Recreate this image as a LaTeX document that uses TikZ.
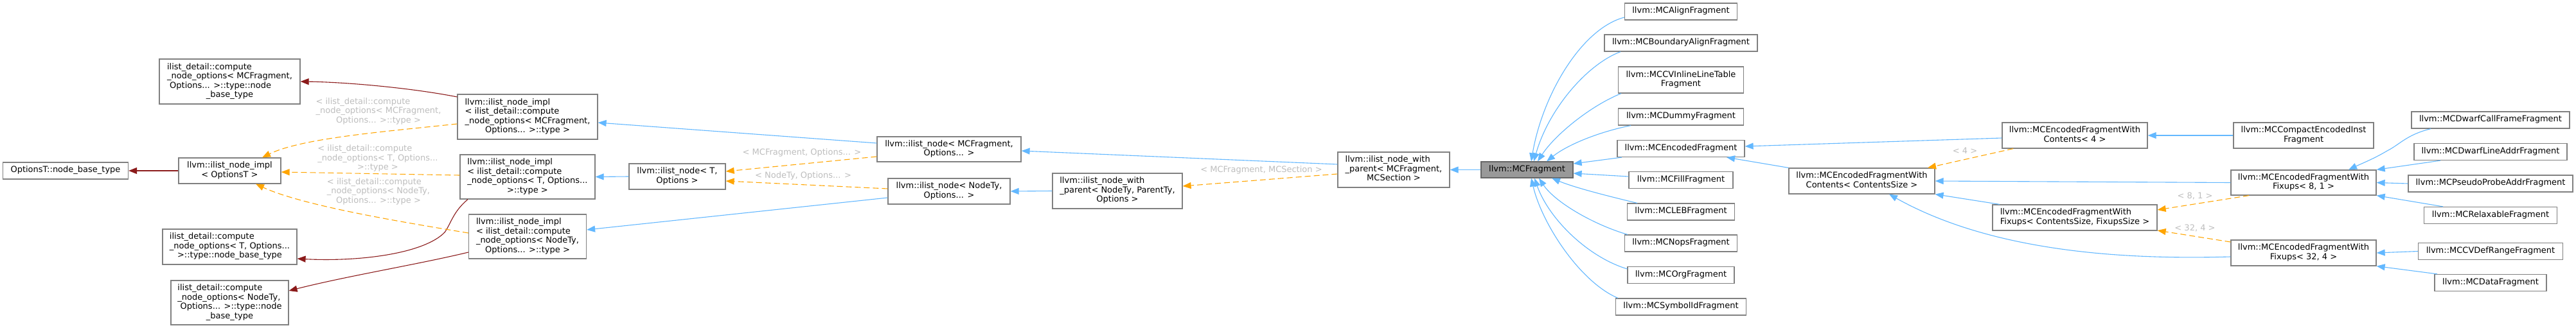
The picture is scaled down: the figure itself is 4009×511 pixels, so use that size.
\documentclass[tikz,border=0pt]{standalone}
\usepackage{fontspec}
\setmainfont{DejaVu Sans}
\usetikzlibrary{arrows.meta}
\definecolor{edgeblue}{HTML}{63B8FF}
\definecolor{edgeorange}{HTML}{FFA500}
\definecolor{edgered}{HTML}{8B1A1A}
\definecolor{nodeborder}{HTML}{808080}
\definecolor{labelgrey}{HTML}{BEBEBE}
\definecolor{focusfill}{HTML}{999999}
\definecolor{focusborder}{HTML}{666666}
\newcommand{\ml}[2]{\begin{tabular}{@{}l@{}}#1\\\multicolumn{1}{@{}c@{}}{#2}\end{tabular}}
\newcommand{\oneline}[1]{\begin{tabular}{@{}c@{}}#1\end{tabular}}
\tikzset{
  cls/.style={draw=nodeborder, line width=1.2pt, fill=white, inner sep=0pt,
    font=\fontsize{13}{14.5}\selectfont, text=black},
  focus/.style={cls, fill=focusfill, draw=focusborder},
  tipstyle/.style={-{Triangle[length=13pt,width=10pt]}},
  pub/.style={draw=edgeblue, line width=1.1pt, tipstyle},
  tmpl/.style={draw=edgeorange, line width=1.1pt, dash pattern=on 9pt off 5pt, tipstyle},
  priv/.style={draw=edgered, line width=1.1pt, tipstyle},
  lbl/.style={text=labelgrey, inner sep=0pt, font=\fontsize{13}{14.5}\selectfont},
}
\begin{document}
\begin{tikzpicture}[x=1pt,y=-1pt]
\useasboundingbox (0,0) rectangle (4009,511);
\fill[white] (0,0) rectangle (4009,511);

% left column
\node[cls, minimum width=195pt, minimum height=26pt] (optT) at (102,266) {\oneline{OptionsT::node\_base\_type}};
\node[cls, minimum width=159pt, minimum height=40pt] (implOptT) at (357.5,266) {\ml{llvm::ilist\_node\_impl}{< OptionsT >}};
\node[cls, minimum width=219pt, minimum height=70pt] (nbtMCF) at (357.5,127) {\ml{ilist\_detail::compute\\\_node\_options< MCFragment,\\\ Options... >::type::node}{\_base\_type}};
\node[cls, minimum width=209pt, minimum height=55pt] (nbtT) at (357.5,384.5) {\ml{ilist\_detail::compute\\\_node\_options< T, Options...}{>::type::node\_base\_type}};
\node[cls, minimum width=183pt, minimum height=69pt] (nbtNT) at (357.5,471.5) {\ml{ilist\_detail::compute\\\_node\_options< NodeTy,\\\ Options... >::type::node}{\_base\_type}};

% impl column
\node[cls, minimum width=218pt, minimum height=70pt] (implMCF) at (821,182) {\ml{llvm::ilist\_node\_impl\\< ilist\_detail::compute\\\_node\_options< MCFragment,}{Options... >::type >}};
\node[cls, minimum width=210pt, minimum height=69pt] (implT) at (821,275.5) {\ml{llvm::ilist\_node\_impl\\< ilist\_detail::compute\\\_node\_options< T, Options...}{>::type >}};
\node[cls, minimum width=183pt, minimum height=69pt] (implNT) at (821,368.5) {\ml{llvm::ilist\_node\_impl\\< ilist\_detail::compute\\\_node\_options< NodeTy,}{Options... >::type >}};

\node[cls, minimum width=150pt, minimum height=40pt] (nodeT) at (1054,275) {\ml{llvm::ilist\_node< T,}{Options >}};
\node[cls, minimum width=224pt, minimum height=39pt] (nodeMCF) at (1477,232.5) {\ml{llvm::ilist\_node< MCFragment,}{Options... >}};
\node[cls, minimum width=190pt, minimum height=40pt] (nodeNT) at (1477,298) {\ml{llvm::ilist\_node< NodeTy,}{Options... >}};
\node[cls, minimum width=202pt, minimum height=55pt] (wpNT) at (1739,297.5) {\ml{llvm::ilist\_node\_with\\\_parent< NodeTy, ParentTy,}{Options >}};
\node[cls, minimum width=174pt, minimum height=55pt] (wpMCF) at (2169,264.5) {\ml{llvm::ilist\_node\_with\\\_parent< MCFragment,}{MCSection >}};
\node[focus, minimum width=143pt, minimum height=25pt] (MCF) at (2376.5,264.5) {\oneline{llvm::MCFragment}};

% fragment column
\node[cls, minimum width=175pt, minimum height=26pt] (fAlign) at (2616,18) {\oneline{llvm::MCAlignFragment}};
\node[cls, minimum width=238pt, minimum height=26pt] (fBound) at (2616,67) {\oneline{llvm::MCBoundaryAlignFragment}};
\node[cls, minimum width=195pt, minimum height=41pt] (fCV) at (2616,124.5) {\ml{llvm::MCCVInlineLineTable}{Fragment}};
\node[cls, minimum width=195pt, minimum height=26pt] (fDummy) at (2616,182) {\oneline{llvm::MCDummyFragment}};
\node[cls, minimum width=198pt, minimum height=26pt] (fEnc) at (2616,231.5) {\oneline{llvm::MCEncodedFragment}};
\node[cls, minimum width=162pt, minimum height=26pt] (fFill) at (2616,280.5) {\oneline{llvm::MCFillFragment}};
\node[cls, minimum width=167pt, minimum height=26pt] (fLEB) at (2616,330) {\oneline{llvm::MCLEBFragment}};
\node[cls, minimum width=175pt, minimum height=26pt] (fNops) at (2616,379) {\oneline{llvm::MCNopsFragment}};
\node[cls, minimum width=166pt, minimum height=26pt] (fOrg) at (2616,428.5) {\oneline{llvm::MCOrgFragment}};
\node[cls, minimum width=203pt, minimum height=26pt] (fSym) at (2616,478) {\oneline{llvm::MCSymbolIdFragment}};

% encoded fragments
\node[cls, minimum width=227pt, minimum height=40pt] (ewcCS) at (2897.5,282) {\ml{llvm::MCEncodedFragmentWith}{Contents< ContentsSize >}};
\node[cls, minimum width=226pt, minimum height=40pt] (ewc4) at (3229,211) {\ml{llvm::MCEncodedFragmentWith}{Contents< 4 >}};
\node[cls, minimum width=256pt, minimum height=40pt] (ewfCS) at (3229,339) {\ml{llvm::MCEncodedFragmentWith}{Fixups< ContentsSize, FixupsSize >}};
\node[cls, minimum width=218pt, minimum height=40pt] (compact) at (3585,211) {\ml{llvm::MCCompactEncodedInst}{Fragment}};
\node[cls, minimum width=226pt, minimum height=39pt] (ewf81) at (3585,284.5) {\ml{llvm::MCEncodedFragmentWith}{Fixups< 8, 1 >}};
\node[cls, minimum width=226pt, minimum height=40pt] (ewf324) at (3585,394) {\ml{llvm::MCEncodedFragmentWith}{Fixups< 32, 4 >}};

% right column
\node[cls, minimum width=246pt, minimum height=26pt] (dwarfCF) at (3876,187) {\oneline{llvm::MCDwarfCallFrameFragment}};
\node[cls, minimum width=238pt, minimum height=26pt] (dwarfLA) at (3876,236.5) {\oneline{llvm::MCDwarfLineAddrFragment}};
\node[cls, minimum width=256pt, minimum height=26pt] (pseudo) at (3876,286) {\oneline{llvm::MCPseudoProbeAddrFragment}};
\node[cls, minimum width=207pt, minimum height=26pt] (relax) at (3876,335.5) {\oneline{llvm::MCRelaxableFragment}};
\node[cls, minimum width=225pt, minimum height=26pt] (cvdef) at (3876,391.5) {\oneline{llvm::MCCVDefRangeFragment}};
\node[cls, minimum width=174pt, minimum height=26pt] (data) at (3876,440.5) {\oneline{llvm::MCDataFragment}};

% labels
\node[lbl] (l1) at (589,174) {\ml{< ilist\_detail::compute\\\_node\_options< MCFragment,}{Options... >::type >}};
\node[lbl] (l2) at (588,247.5) {\ml{< ilist\_detail::compute\\\_node\_options< T, Options...}{>::type >}};
\node[lbl] (l3) at (589,299) {\ml{< ilist\_detail::compute\\\_node\_options< NodeTy,}{Options... >::type >}};
\node[lbl] (l4) at (1248,239) {\oneline{< MCFragment, Options... >}};
\node[lbl] (l5) at (1250,275) {\oneline{< NodeTy, Options... >}};
\node[lbl] (l6) at (1963,266) {\oneline{< MCFragment, MCSection >}};
\node[lbl] (l7) at (3058,237) {\oneline{< 4 >}};
\node[lbl] (l8) at (3416,307) {\oneline{< 8, 1 >}};
\node[lbl] (l9) at (3416,357) {\oneline{< 32, 4 >}};

% private (red) edges
\draw[priv] (implOptT.west) -- (optT.east);
\draw[priv] ([shift={(0,-31)}]implMCF.west) .. controls (640,137) and (540,128) .. (nbtMCF.east);
\draw[priv] ([shift={(-93,0)}]implT.south) .. controls (705,330) and (702,348) .. (692,362) .. controls (660,395) and (560,408) .. ([shift={(0,18.5)}]nbtT.east);
\draw[priv] ([shift={(0,24.5)}]implNT.west) .. controls (650,412) and (540,430) .. ([shift={(0,-18.5)}]nbtNT.east);

% template edges to ilist_node_impl<OptionsT>
\draw[tmpl] ([shift={(0,11)}]implMCF.west) .. controls (600,205) and (470,215) .. ([shift={(50.5,0)}]implOptT.north);
\draw[tmpl] ([shift={(0,-2.5)}]implT.west) -- ([shift={(0,2)}]implOptT.east);
\draw[tmpl] ([shift={(0,-5.5)}]implNT.west) .. controls (620,345) and (470,320) .. ([shift={(40.5,0)}]implOptT.south);

% ilist_node level
\draw[pub] (nodeT.west) -- (implT.east);
\draw[pub] ([shift={(0,-9.5)}]nodeMCF.west) -- ([shift={(0,9)}]implMCF.east);
\draw[pub] ([shift={(0,10)}]nodeNT.west) -- ([shift={(0,-10.5)}]implNT.east);
\draw[tmpl] ([shift={(0,11.5)}]nodeMCF.west) -- ([shift={(0,-8)}]nodeT.east);
\draw[tmpl] ([shift={(0,-4)}]nodeNT.west) -- ([shift={(0,7)}]nodeT.east);
\draw[pub] (wpNT.west) -- (nodeNT.east);
\draw[pub] ([shift={(0,-8.5)}]wpMCF.west) -- ([shift={(0,2.5)}]nodeMCF.east);
\draw[tmpl] ([shift={(0,6.5)}]wpMCF.west) -- ([shift={(0,-7.5)}]wpNT.east);
\draw[pub] (MCF.west) -- (wpMCF.east);

% fragments to MCFragment
\draw[pub] ([shift={(0,9)}]fAlign.west) .. controls (2460,45) and (2400,150) .. ([shift={(6.5,0)}]MCF.north);
\draw[pub] ([shift={(-94,0)}]fBound.south) .. controls (2470,100) and (2410,170) .. ([shift={(10.5,0)}]MCF.north);
\draw[pub] ([shift={(-93,0)}]fCV.south) .. controls (2475,165) and (2420,210) .. ([shift={(16.5,0)}]MCF.north);
\draw[pub] ([shift={(-78,0)}]fDummy.south) .. controls (2490,205) and (2440,225) .. ([shift={(30.5,0)}]MCF.north);
\draw[pub] ([shift={(-92,0)}]fEnc.south) -- ([shift={(0,-9.5)}]MCF.east);
\draw[pub] ([shift={(0,-5.5)}]fFill.west) -- ([shift={(0,5.5)}]MCF.east);
\draw[pub] ([shift={(-68,0)}]fLEB.north) .. controls (2500,305) and (2450,292) .. ([shift={(38.5,0)}]MCF.south);
\draw[pub] ([shift={(-83,0)}]fNops.north) .. controls (2480,350) and (2420,315) .. ([shift={(18.5,0)}]MCF.south);
\draw[pub] ([shift={(0,-9.5)}]fOrg.west) .. controls (2470,400) and (2410,340) .. ([shift={(11.5,0)}]MCF.south);
\draw[pub] ([shift={(-98,0)}]fSym.north) .. controls (2460,440) and (2400,350) .. ([shift={(6.5,0)}]MCF.south);

% encoded fragment hierarchy
\draw[pub] ([shift={(0,4)}]ewc4.west) -- ([shift={(0,-3.5)}]fEnc.east);
\draw[pub] (ewcCS.north west) -- ([shift={(71,0)}]fEnc.south);
\draw[tmpl] ([shift={(-96,0)}]ewc4.south) -- ([shift={(102.5,0)}]ewcCS.north);
\draw[pub] ([shift={(-117,0)}]ewfCS.north) -- (ewcCS.south east);
\draw[pub] (ewf81.west) -- (ewcCS.east);
\draw[pub] ([shift={(0,6)}]ewf324.west) .. controls (3330,404) and (3110,398) .. ([shift={(42.5,0)}]ewcCS.south);
\draw[tmpl] ([shift={(-85,0)}]ewf81.south) -- ([shift={(0,-12)}]ewfCS.east);
\draw[tmpl] ([shift={(0,-17)}]ewf324.west) -- ([shift={(0,20)}]ewfCS.east);
\draw[pub] (compact.west) -- (ewc4.east);
\draw[pub] ([shift={(-93,0)}]dwarfCF.south) .. controls (3745,210) and (3735,225) .. (3715,235) .. controls (3695,247) and (3675,255) .. ([shift={(70,0)}]ewf81.north);
\draw[pub] ([shift={(-78,0)}]dwarfLA.south) -- (ewf81.north east);
\draw[pub] (pseudo.west) -- (ewf81.east);
\draw[pub] ([shift={(-74,0)}]relax.north) -- (ewf81.south east);
\draw[pub] (cvdef.west) -- (ewf324.east);
\draw[pub] ([shift={(-83,0)}]data.north) -- (ewf324.south east);
\end{tikzpicture}
\end{document}
